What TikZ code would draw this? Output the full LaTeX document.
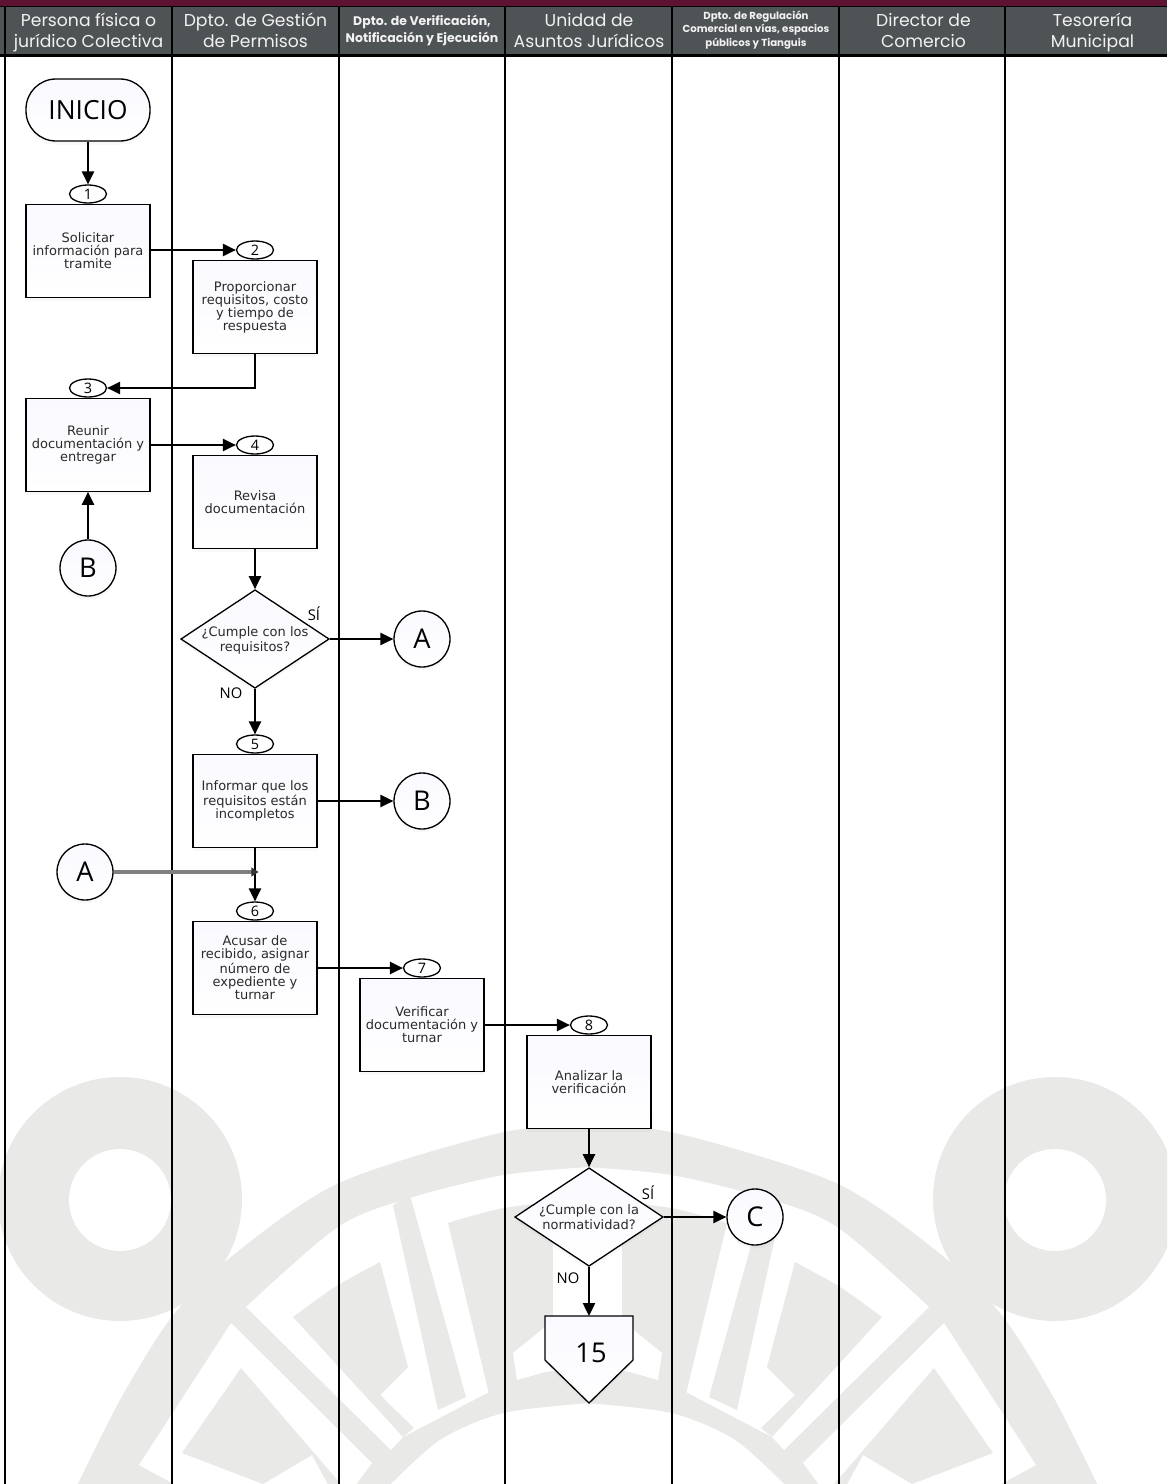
\documentclass[tikz,border=0pt]{standalone}
\usepackage{fontspec}
\setmainfont{DejaVu Sans}
\newfontfamily\headfont{Poppins}
\newfontfamily\opfont{Open Sans}
\usetikzlibrary{arrows.meta,shapes.geometric,shadows}
\definecolor{wmgray}{HTML}{E9EAE7}
\definecolor{headgray}{HTML}{4E5356}
\definecolor{maroon}{HTML}{5F1333}
\definecolor{headtext}{HTML}{F2F2F2}
\definecolor{bodytext}{HTML}{2A2A2A}
\newcommand{\zbox}[1]{\makebox[0pt]{\smash{\raisebox{-2.9pt}{\begin{tabular}[c]{@{}c@{}}#1\end{tabular}}}}}
\newcommand{\wmhalf}{%
  \fill[wmgray] (120,1199) circle[radius=122];
  \fill[wmgray] plot[smooth] coordinates {(75,1490)(120,1400)(171,1318)(231,1257)(339,1183)(504,1132)(590,1127)} -- (590,1490) -- cycle;
  \fill[white] (120,1200) circle[radius=51];
  \fill[white] plot[smooth] coordinates {(246,1307)(338,1227)(410,1198)(504,1175)(590,1167)} -- (590,1367) -- (545,1372) -- (489,1392) -- (403,1437) -- (391,1450) -- cycle;
  \fill[white] (231,1323) -- (139,1465) -- (185,1490) -- (352,1490) -- (372,1463) -- cycle;
  \fill[wmgray] plot[smooth] coordinates {(293,1317)(335,1287)(380,1262)} -- (408,1367) -- (380,1395) -- (414,1428) -- (403,1437) -- cycle;
  \fill[wmgray] (393,1205) -- (410,1195) -- (466,1397) -- (438,1410) -- cycle;
  \fill[wmgray] plot[smooth] coordinates {(448,1223)(504,1208)(590,1198)} -- (590,1372) -- (545,1376) -- (489,1394) -- cycle;
  \fill[wmgray] (241,1368) -- (182,1453) -- (263,1484) -- (312,1455) -- (331,1490) -- (346,1490) -- cycle;
  \fill[white] (553,1235) rectangle (590,1327);
  \fill[white] (513,1353) -- (545,1327) -- (590,1323) -- (590,1367) -- (545,1372) -- (517,1380) -- cycle;
  \fill[white] plot[smooth] coordinates {(385,1490)(440,1440)(504,1413)(590,1403)} -- (590,1490) -- cycle;
}
\tikzset{
  pbox/.style={draw=black,line width=0.75pt,fill=white,top color=white!92!blue!30,bottom color=white,
    drop shadow={opacity=0.06,shadow xshift=0pt,shadow yshift=-2pt}},
  procbox/.style={pbox,rectangle,minimum width=2.48cm,minimum height=1.85cm,inner sep=0pt,align=center,text=bodytext,
    font=\fontsize{7.4}{7.4}\selectfont},
  decision/.style={pbox,diamond,minimum width=2.97cm,minimum height=1.97cm,inner sep=0pt,aspect=1.5,text=bodytext,
    font=\fontsize{7.4}{8.4}\selectfont},
  conn/.style={pbox,circle,minimum size=1.12cm,inner sep=0pt,font=\opfont\fontsize{15.5}{15.5}\selectfont},
  terminal/.style={pbox,rectangle,rounded corners=0.6cm,minimum width=2.48cm,minimum height=1.24cm,inner sep=0pt,
    font=\opfont\fontsize{15}{15}\selectfont},
  numo/.style={draw=black,line width=0.75pt,fill=white,ellipse,minimum width=0.74cm,minimum height=0.36cm,inner sep=0pt,
    font=\opfont\fontsize{8.2}{8.2}\selectfont},
  flow/.style={draw=black,line width=0.8pt,-{Triangle[length=7.4pt,width=7pt]}},
  lane/.style={draw=black,line width=1.15pt},
  headbig/.style={text=headtext,align=center,font=\headfont\fontsize{9.8}{11.9}\selectfont},
  headmid/.style={text=headtext,align=center,font=\headfont\bfseries\fontsize{7.1}{8.3}\selectfont},
  headsmall/.style={text=headtext,align=center,font=\headfont\bfseries\fontsize{5.8}{6.2}\selectfont},
  yesno/.style={font=\opfont\fontsize{8.4}{8.4}\selectfont},
}
\begin{document}
\begin{tikzpicture}[x=0.02cm,y=-0.02cm]
\useasboundingbox (0,0) rectangle (1167,1484);
\begin{scope}
\clip (0,0) rectangle (1167,1484);
\wmhalf
\begin{scope}[shift={(1175,0)},xscale=-1]
\wmhalf
\end{scope}
% header
\fill[maroon] (0,0) rectangle (1167,6);
\fill[headgray] (0,6) rectangle (1167,55);
\draw[black,line width=1pt] (0,6.5) -- (1167,6.5);
\draw[black,line width=1.2pt] (0,55.5) -- (1167,55.5);
\foreach \lx in {5,172,339,505,672,839,1005}{
  \draw[lane] (\lx,6) -- (\lx,1484);
}
\end{scope}
\node[headbig] (h1) at (88.5,32.5) {\strut Persona física o\\\strut jurídico Colectiva};
\node[headbig] (h2) at (255.5,32.5) {\strut Dpto. de Gestión\\\strut de Permisos};
\node[headmid] (h3) at (422,31) {\strut Dpto. de Verificación,\\\strut Notificación y Ejecución};
\node[headbig] (h4) at (589,32.5) {\strut Unidad de\\\strut Asuntos Jurídicos};
\node[headsmall] (h5) at (756,30) {\strut Dpto. de Regulación\\\strut Comercial en vías, espacios\\\strut públicos y Tianguis};
\node[headbig] (h6) at (923.5,32.5) {\strut Director de\\\strut Comercio};
\node[headbig] (h7) at (1092.5,32.5) {\strut Tesorería\\\strut Municipal};
% shapes
\node[terminal] (inicio) at (88,110) {INICIO};
\node[procbox] (b1) at (88,251) {Solicitar\\información para\\tramite};
\node[procbox] (b2) at (255,307) {Proporcionar\\requisitos, costo\\y tiempo de\\respuesta};
\node[procbox] (b3) at (88,445) {Reunir\\documentación y\\entregar};
\node[procbox] (b4) at (255,502) {Revisa\\documentación};
\node[decision] (d1) at (255,639) {\zbox{¿Cumple con los\\requisitos?}};
\node[procbox] (b5) at (255,801) {Informar que los\\requisitos están\\incompletos};
\node[procbox] (b6) at (255,968) {Acusar de\\recibido, asignar\\número de\\expediente y\\turnar};
\node[procbox] (b7) at (422,1025) {Verificar\\documentación y\\turnar};
\node[procbox] (b8) at (589,1082) {Analizar la\\verificación};
\node[decision] (d2) at (589,1217) {\zbox{¿Cumple con la\\normatividad?}};
\draw[pbox] (545,1316) -- (633,1316) -- (633,1360) -- (589,1403) -- (545,1360) -- cycle;
\node[font=\opfont\fontsize{15.5}{15.5}\selectfont] (p15) at (591,1353) {15};
\coordinate (p15top) at (589,1316);
\node[conn] (cB1) at (88,568) {B};
\node[conn] (cA1) at (422,639) {A};
\node[conn] (cB2) at (422,801) {B};
\node[conn] (cA2) at (85,872) {A};
\node[conn] (cC) at (755,1217) {C};
\node[numo] (n1) at (88,194) {1};
\node[numo] (n2) at (255,250) {2};
\node[numo] (n3) at (88,388) {3};
\node[numo] (n4) at (255,445) {4};
\node[numo] (n5) at (255,744) {5};
\node[numo] (n6) at (255,911) {6};
\node[numo] (n7) at (422,968) {7};
\node[numo] (n8) at (589,1025) {8};
\node[yesno] (si1) at (314,614) {SÍ};
\node[yesno] (no1) at (231,693) {NO};
\node[yesno] (si2) at (648,1193) {SÍ};
\node[yesno] (no2) at (568,1278) {NO};
% connectors
\draw[flow] (inicio) -- (n1);
\draw[flow] (n2.west -| b1.east) -- (n2.west);
\draw[flow] (b2.south) |- (n3.east);
\draw[flow] (n4.west -| b3.east) -- (n4.west);
\draw[flow] (cB1) -- (b3);
\draw[flow] (b4) -- (d1);
\draw[flow] (d1.east) -- (cA1);
\draw[flow] (d1.south) -- (n5);
\draw[flow] (b5.east) -- (cB2.west);
\draw[flow] (b5) -- (n6);
\draw[flow] (n7.west -| b6.east) -- (n7.west);
\draw[flow] (n8.west -| b7.east) -- (n8.west);
\draw[flow] (b8) -- (d2);
\draw[flow] (d2.east) -- (cC);
\draw[flow] (d2.south) -- (p15top);
\coordinate (jA) at (b5.south |- cA2.east);
\draw[draw=black!50,line width=2pt,-{Triangle[length=4pt,width=5pt,color=black!80,fill=black!80]}] (cA2.east) -- ([xshift=2pt]jA);
\end{tikzpicture}
\end{document}
